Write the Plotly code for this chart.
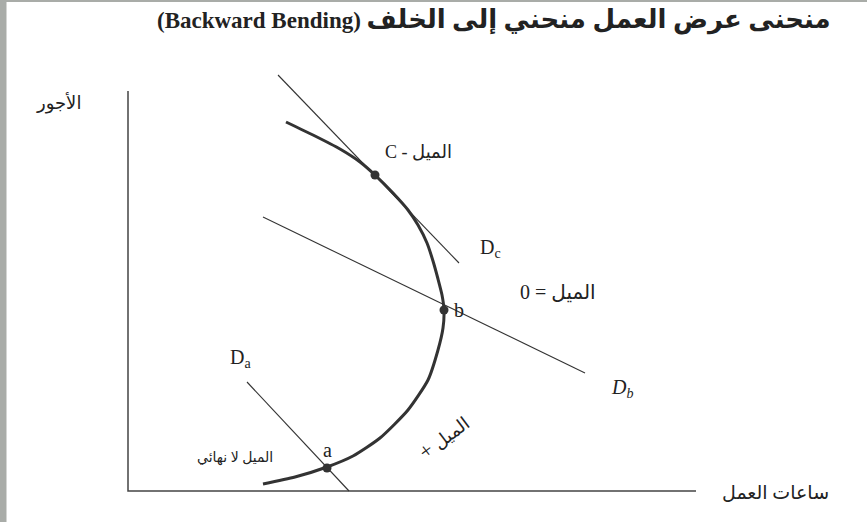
import plotly.graph_objects as go

# backward bending labour supply curve
# hours = pixels from the vertical axis, wage = pixels up from the horizontal axis
curve_hours = [158, 185, 212, 232, 247, 265, 280, 290, 299, 305, 310, 314, 316,
               315, 310, 300, 280, 252, 225, 199, 167, 135]
curve_wage = [369, 356, 342, 329, 316, 298, 281, 266, 248, 230, 212, 196, 181,
              163, 141, 111, 81, 53, 35, 24, 14, 7]

# tangent (demand) lines, two end points each
dc_hours = [150, 331]
dc_wage = [416, 228]
db_hours = [135, 457]
db_wage = [274, 118]
da_hours = [119, 221]
da_wage = [109, 0]

# marked points C, b, a
point_names = ["C", "b", "a"]
point_hours = [247, 316, 199]
point_wage = [316, 181, 23]

axis_x_len = 568
axis_y_len = 400

RLE, PDF = "\u202b", "\u202c"
ink = "#333333"
serif = "Liberation Serif, DejaVu Sans, serif"

fig = go.Figure()

# axes
fig.add_trace(go.Scatter(x=[0, 0, axis_x_len], y=[axis_y_len, 0, 0], mode="lines",
                         line=dict(color="#444444", width=1.5), hoverinfo="skip"))

for xs, ys in [(dc_hours, dc_wage), (db_hours, db_wage), (da_hours, da_wage)]:
    fig.add_trace(go.Scatter(x=xs, y=ys, mode="lines",
                             line=dict(color=ink, width=1.1), hoverinfo="skip"))

fig.add_trace(go.Scatter(x=curve_hours, y=curve_wage, mode="lines",
                         line=dict(color=ink, width=3, shape="spline", smoothing=0.6),
                         hoverinfo="skip"))

fig.add_trace(go.Scatter(x=point_hours, y=point_wage, mode="markers",
                         marker=dict(color=ink, size=9), text=point_names, hoverinfo="text"))

notes = [
    (-70, 388, "الأجور", 18, 0),
    (647, -1, "ساعات العمل", 19, 0),
    (290, 339, RLE + "الميل - C" + PDF, 18, 0),
    (362, 243, "D<sub>c</sub>", 20, 0),
    (430, 199, RLE + "الميل = 0" + PDF, 20, 0),
    (331, 181, "b", 20, 0),
    (112, 133, "D<sub>a</sub>", 20, 0),
    (494, 103, "<i>D<sub>b</sub></i>", 20, 0),
    (199, 41, "a", 20, 0),
    (107, 33, "الميل لا نهائي", 14, 0),
    (315, 54, RLE + "الميل " + '<span style="font-size:22px">+</span>' + PDF, 18, -37),
]
for x, y, t, s, ang in notes:
    fig.add_annotation(x=x, y=y, text=t, showarrow=False, textangle=ang,
                       font=dict(family=serif, size=s, color="#222222"))

title = ("<b>" + RLE + '<span style="font-size:26px">منحنى عرض العمل منحني إلى الخلف</span>'
         + " (Backward Bending)" + PDF + "</b>")
fig.add_annotation(x=0.57, y=0.962, xref="paper", yref="paper", yanchor="middle",
                   text=title, showarrow=False,
                   font=dict(family=serif, size=23, color="#222222"))

# grey frame of the original slide
fig.add_shape(type="rect", xref="paper", yref="paper", x0=0, x1=0.0075, y0=0, y1=1,
              fillcolor="#a9aca8", line_width=0, layer="above")
fig.add_shape(type="rect", xref="paper", yref="paper", x0=0, x1=1, y0=0.996, y1=1,
              fillcolor="#a9aca8", line_width=0, layer="above")

fig.update_layout(
    width=867, height=522,
    margin=dict(l=0, r=0, t=0, b=0),
    paper_bgcolor="white", plot_bgcolor="white",
    showlegend=False,
    xaxis=dict(range=[-128, 739], visible=False, fixedrange=True),
    yaxis=dict(range=[-31, 491], visible=False, fixedrange=True),
)

fig.write_html("out.html", config={"displayModeBar": False},
               post_script="document.body.style.margin='0';")
